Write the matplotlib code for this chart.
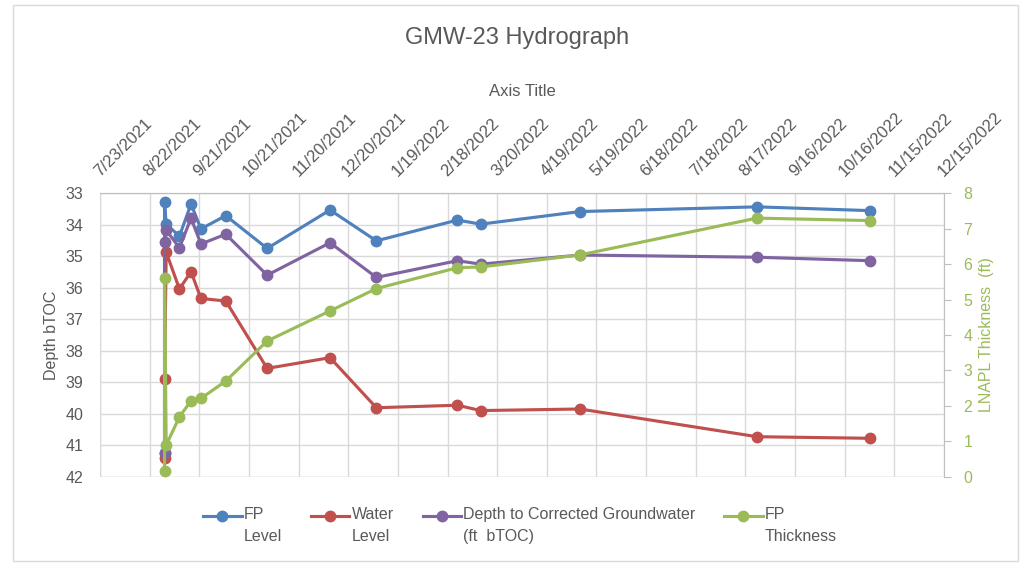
import datetime as dt
import numpy as np
import matplotlib
matplotlib.use("Agg")
import matplotlib.pyplot as plt
import matplotlib.dates as mdates
from matplotlib.patches import Rectangle
from matplotlib.legend_handler import HandlerLine2D

plt.rcParams['font.family'] = ['Liberation Sans', 'DejaVu Sans']

# Gauging records, GMW-23
dates = ["8/31/2021", "8/31/2021", "9/1/2021", "9/9/2021", "9/16/2021", "9/22/2021",
         "10/7/2021", "11/1/2021", "12/9/2021", "1/6/2022", "2/24/2022", "3/10/2022",
         "5/9/2022", "8/24/2022", "10/31/2022"]
fp_level = [41.25, 33.27, 33.98, 34.36, 33.34, 34.13, 33.71, 34.75, 33.53, 34.51,
            33.85, 33.98, 33.58, 33.43, 33.55]
water_level = [41.40, 38.90, 34.87, 36.04, 35.49, 36.34, 36.42, 38.56, 38.22, 39.81,
               39.73, 39.90, 39.85, 40.73, 40.78]
corrected_gw = [41.25, 34.54, 34.17, 34.73, 33.79, 34.61, 34.30, 35.60, 34.57, 35.67,
                35.14, 35.25, 34.96, 35.03, 35.14]
fp_thickness = [0.16, 5.62, 0.89, 1.69, 2.14, 2.21, 2.70, 3.83, 4.68, 5.31,
                5.90, 5.92, 6.26, 7.30, 7.23]

x_start = dt.date(2021, 7, 23)
x_end = dt.date(2022, 12, 15)
tick_step_days = 30

BLUE = '#4F81BD'
RED = '#C0504D'
PURPLE = '#8064A2'
GREEN = '#9BBB59'
GREY_TXT = '#595959'
GRID = '#D9D9D9'


class TopLineHandler(HandlerLine2D):
    """Legend key lifted to sit beside the first line of a two-line label."""
    def create_artists(self, legend, orig_handle, xdescent, ydescent, width, height,
                       fontsize, trans):
        arts = super().create_artists(legend, orig_handle, xdescent, ydescent, width,
                                      height, fontsize, trans)
        for a in arts:
            a.set_ydata(np.asarray(a.get_ydata()) + 0.62 * fontsize)
        return arts


t = [dt.datetime.strptime(d, "%m/%d/%Y") for d in dates]

fig = plt.figure(figsize=(10.26, 5.65), dpi=100)
fig.patches.append(Rectangle((13/1026, 4/565), 1005/1026, 556/565, transform=fig.transFigure,
                             fill=False, edgecolor='#D9D9D9', linewidth=1))

ax = fig.add_axes([100/1026, 1 - 476.7/565, (944 - 100)/1026, (476.7 - 193.3)/565])
ax2 = ax.twinx()

style = dict(linewidth=2.25, marker='o', markersize=7.5)
l1, = ax.plot(t, fp_level, color=BLUE, label='FP\nLevel', **style)
l2, = ax.plot(t, water_level, color=RED, label='Water\nLevel', **style)
l3, = ax.plot(t, corrected_gw, color=PURPLE, label='Depth to Corrected Groundwater\n(ft  bTOC)', **style)
l4, = ax2.plot(t, fp_thickness, color=GREEN, label='FP\nThickness', **style)

# left axis: depth, inverted
ax.set_ylim(42, 33)
ax.set_yticks(range(33, 43))
ax.set_ylabel('Depth bTOC', color=GREY_TXT, fontsize=11.5, labelpad=5)
ax.yaxis.grid(True, color=GRID, linewidth=1)
ax.tick_params(axis='y', length=0, labelcolor=GREY_TXT, labelsize=11.5, pad=12)

# date axis on top, 30 day steps
ticks = []
d = x_start
while d <= x_end:
    ticks.append(mdates.date2num(d))
    d += dt.timedelta(days=tick_step_days)
ax.set_xlim(mdates.date2num(x_start), mdates.date2num(x_end))
ax.xaxis.tick_top()
ax.set_xticks(ticks)
ax.set_xticklabels([f"{mdates.num2date(v).month}/{mdates.num2date(v).day}/{mdates.num2date(v).year}"
                    for v in ticks], rotation=45, ha='left', va='baseline', rotation_mode='anchor')
ax.tick_params(axis='x', length=0, labelcolor=GREY_TXT, labelsize=12, pad=12)
ax.xaxis.grid(True, color=GRID, linewidth=1)
ax.set_axisbelow(True)
fig.text(0.509, 1 - 91/565, 'Axis Title', color=GREY_TXT, fontsize=12, ha='center', va='center')

# right axis: product thickness
ax2.set_ylim(0, 8)
ax2.set_yticks(range(0, 9))
ax2.tick_params(axis='y', length=5, color='#BFBFBF', labelcolor=GREEN, labelsize=11.5, pad=9)
ax2.set_ylabel('LNAPL Thickness  (ft)', color=GREEN, fontsize=11.5, labelpad=5)

for a in (ax, ax2):
    for s in ('left', 'bottom'):
        a.spines[s].set_visible(False)
    a.spines['top'].set_color('#BFBFBF')
    a.spines['right'].set_color('#BFBFBF')
ax.spines['right'].set_visible(False)
ax.axhline(42, color=GRID, linewidth=1)
ax.axvline(mdates.date2num(x_start), color=GRID, linewidth=1)

fig.text(0.504, 1 - 38/565, 'GMW-23 Hydrograph', fontsize=17, color=GREY_TXT,
         ha='center', va='center')

leg = fig.legend(handles=[l1, l2, l3, l4], loc='lower center', bbox_to_anchor=(0.507, 0.012),
                 ncol=4, frameon=False, fontsize=11.5, labelcolor=GREY_TXT, handlelength=2.4,
                 handletextpad=0.15, columnspacing=1.8,
                 handler_map={matplotlib.lines.Line2D: TopLineHandler()})
for txt in leg.get_texts():
    txt.set_linespacing(1.55)

fig.savefig('out.png', dpi=100)
